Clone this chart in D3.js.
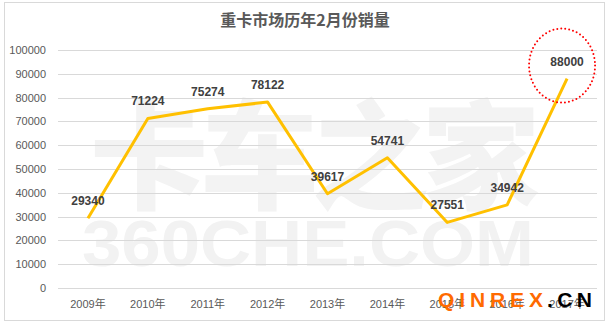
<!DOCTYPE html>
<html>
<head>
<meta charset="utf-8">
<script src="https://cdn.jsdelivr.net/npm/d3@7"></script>
<style>
  body { margin: 0; background: #fff; }
  svg { display: block; }
</style>
</head>
<body>
<svg id="chart" width="611" height="322"></svg>
<script>
var years = ['2009年', '2010年', '2011年', '2012年', '2013年', '2014年', '2015年', '2016年', '2017年'];
var sales = [29340, 71224, 75274, 78122, 39617, 54741, 27551, 34942, 88000];
var yTicks = [0, 10000, 20000, 30000, 40000, 50000, 60000, 70000, 80000, 90000, 100000];

var svg = d3.select('#chart');
var width = 611, height = 322;
var margins = { top: 50, bottom: 34, left: 58, right: 14 };

// outer frame
svg.append('rect')
  .attr('x', 4.5).attr('y', 2.5)
  .attr('width', 600).attr('height', 318)
  .attr('fill', '#fff')
  .attr('stroke', '#d9d9d9');

// watermark
svg.append('text')
  .attr('x', 315).attr('y', 200)
  .attr('text-anchor', 'middle')
  .attr('font-family', '"Noto Sans CJK SC", sans-serif')
  .attr('font-weight', 900)
  .attr('font-size', '118px')
  .attr('textLength', 450)
  .attr('fill', '#f3f3f3')
  .text('卡车之家');
svg.append('text')
  .attr('x', 82).attr('y', 266)
  .attr('font-family', '"Liberation Sans", Arial, sans-serif')
  .attr('font-weight', 'bold')
  .attr('font-size', '64px')
  .attr('textLength', 452)
  .attr('lengthAdjust', 'spacingAndGlyphs')
  .attr('fill', '#f2f2f2')
  .text('360CHE.COM');

var x = d3.scaleBand()
  .domain(years)
  .range([margins.left, width - margins.right]);
var y = d3.scaleLinear()
  .domain([0, 100000])
  .range([height - margins.bottom, margins.top]);

// gridlines
svg.append('g')
  .selectAll('line')
  .data(yTicks)
  .enter()
  .append('line')
  .attr('x1', margins.left)
  .attr('x2', width - margins.right)
  .attr('y1', function(d) { return Math.round(y(d)) + 0.5; })
  .attr('y2', function(d) { return Math.round(y(d)) + 0.5; })
  .attr('stroke', '#d9d9d9')
  .attr('stroke-width', 1);

// y axis labels
var yAxis = svg.append('g')
  .attr('transform', 'translate(' + (margins.left - 12) + ',0)')
  .call(d3.axisLeft(y).tickValues(yTicks).tickSize(0).tickPadding(0).tickFormat(d3.format('d')));
yAxis.select('.domain').remove();
yAxis.selectAll('text')
  .attr('font-family', '"Liberation Sans", Arial, sans-serif')
  .attr('font-size', '11px')
  .attr('fill', '#595959');

// x axis labels
var xAxis = svg.append('g')
  .attr('transform', 'translate(0,' + (height - margins.bottom) + ')')
  .call(d3.axisBottom(x).tickSize(0).tickPadding(12));
xAxis.select('.domain').remove();
xAxis.selectAll('text')
  .attr('font-family', '"Liberation Sans", "Noto Sans CJK SC", sans-serif')
  .attr('font-size', '11px')
  .attr('fill', '#595959');

// title
svg.append('text')
  .attr('x', 305).attr('y', 26)
  .attr('text-anchor', 'middle')
  .attr('font-family', '"Noto Sans CJK SC", sans-serif')
  .attr('font-weight', 'bold')
  .attr('font-size', '16px')
  .attr('fill', '#595959')
  .text('重卡市场历年2月份销量');

// line
var line = d3.line()
  .x(function(d, i) { return x(years[i]) + x.bandwidth() / 2; })
  .y(function(d) { return y(d); });

svg.append('path')
  .datum(sales)
  .attr('d', line)
  .attr('fill', 'none')
  .attr('stroke', '#ffc000')
  .attr('stroke-width', 3)
  .attr('stroke-linejoin', 'round');

// data labels
svg.append('g')
  .selectAll('text')
  .data(sales)
  .enter()
  .append('text')
  .attr('x', function(d, i) { return x(years[i]) + x.bandwidth() / 2; })
  .attr('y', function(d) { return y(d) - 13; })
  .attr('text-anchor', 'middle')
  .attr('font-family', '"Liberation Sans", Arial, sans-serif')
  .attr('font-weight', 'bold')
  .attr('font-size', '12px')
  .attr('fill', '#404040')
  .text(function(d) { return d; });

// highlight ring on the last point
var last = sales.length - 1;
svg.append('ellipse')
  .attr('cx', x(years[last]) + x.bandwidth() / 2 - 5)
  .attr('cy', y(sales[last]) - 13)
  .attr('rx', 33)
  .attr('ry', 37)
  .attr('fill', 'none')
  .attr('stroke', '#ff0000')
  .attr('stroke-width', 2)
  .attr('stroke-linecap', 'round')
  .attr('stroke-dasharray', '0,4');

// site mark
var mark = svg.append('text')
  .attr('y', 307)
  .attr('font-family', '"Liberation Sans", Arial, sans-serif')
  .attr('font-weight', 'bold')
  .attr('font-size', '21px');
mark.append('tspan')
  .attr('x', 438)
  .attr('textLength', 105)
  .attr('fill', '#ff6a00')
  .text('QINREX');
mark.append('tspan')
  .attr('x', 547)
  .attr('textLength', 45)
  .attr('fill', '#000')
  .text('.CN');
</script>
</body>
</html>
